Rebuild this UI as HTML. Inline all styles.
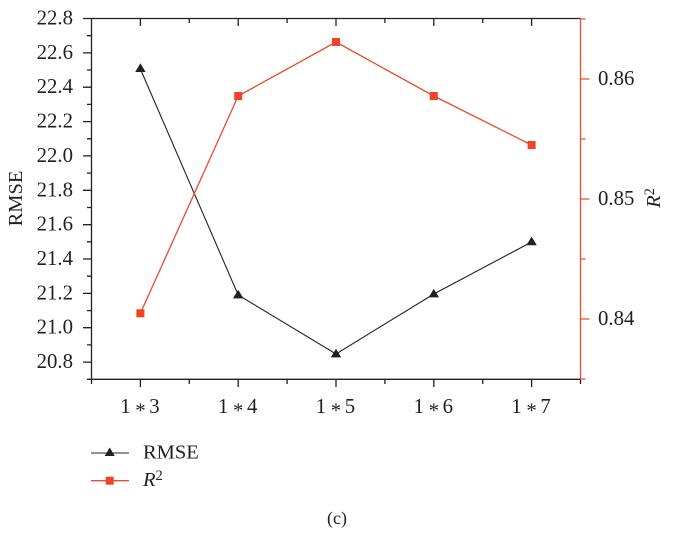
<!DOCTYPE html>
<html><head><meta charset="utf-8"><style>
html,body{margin:0;padding:0;background:#fff;}
svg{display:block;}
svg text{font-family:"Liberation Serif",serif;fill:#231f20;}
</style></head><body>
<svg width="676" height="544" viewBox="0 0 676 544" xmlns="http://www.w3.org/2000/svg" font-family="Liberation Serif, serif">
<g stroke="#231f20" stroke-width="1.3" fill="none">
  <line x1="91.5" y1="18.5" x2="580.5" y2="18.5"/>
  <line x1="91.5" y1="18.5" x2="91.5" y2="379.3"/>
  <line x1="91.5" y1="379.3" x2="580.5" y2="379.3"/>
  <path d="M83 18.5H91.5M83 52.9H91.5M83 87.2H91.5M83 121.6H91.5M83 155.9H91.5M83 190.3H91.5M83 224.7H91.5M83 259H91.5M83 293.4H91.5M83 327.7H91.5M83 362.1H91.5"/>
  <path d="M87 35.7H91.5M87 70H91.5M87 104.4H91.5M87 138.8H91.5M87 173.1H91.5M87 207.5H91.5M87 241.8H91.5M87 276.2H91.5M87 310.6H91.5M87 344.9H91.5M87 379.3H91.5"/>
  <path d="M140.4 379.3V387M238.2 379.3V387M336 379.3V387M433.8 379.3V387M531.6 379.3V387"/>
  <path d="M91.5 379.3V384M189.3 379.3V384M287.1 379.3V384M384.9 379.3V384M482.7 379.3V384M580.5 379.3V384"/>
  <path d="M140.4 18.5V26M238.2 18.5V26M336 18.5V26M433.8 18.5V26M531.6 18.5V26"/>
  <path d="M189.3 18.5V23M287.1 18.5V23M384.9 18.5V23M482.7 18.5V23"/>
</g>
<g stroke="#ef4a2c" stroke-width="1.3" fill="none">
  <line x1="580.5" y1="18.5" x2="580.5" y2="379.3"/>
  <path d="M580.5 79H589.5M580.5 199H589.5M580.5 319H589.5"/>
  <path d="M580.5 19H585.5M580.5 139H585.5M580.5 259H585.5M580.5 379H585.5"/>
</g>
<g font-size="20.8" text-anchor="end" font-family="Liberation Serif, serif">
  <text x="73" y="24.5">22.8</text>
  <text x="73" y="58.9">22.6</text>
  <text x="73" y="93.2">22.4</text>
  <text x="73" y="127.6">22.2</text>
  <text x="73" y="161.9">22.0</text>
  <text x="73" y="196.3">21.8</text>
  <text x="73" y="230.7">21.6</text>
  <text x="73" y="265">21.4</text>
  <text x="73" y="299.4">21.2</text>
  <text x="73" y="333.7">21.0</text>
  <text x="73" y="368.1">20.8</text>
</g>
<g font-size="20.8" font-family="Liberation Serif, serif">
  <text x="598" y="85">0.86</text>
  <text x="598" y="205">0.85</text>
  <text x="598" y="325">0.84</text>
</g>
<g font-size="20.8" text-anchor="middle" font-family="Liberation Serif, serif">
  <text x="125.4" y="413">1</text><text x="140.4" y="417.5">*</text><text x="154.4" y="413">3</text>
  <text x="223.2" y="413">1</text><text x="238.2" y="417.5">*</text><text x="252.2" y="413">4</text>
  <text x="321" y="413">1</text><text x="336" y="417.5">*</text><text x="350" y="413">5</text>
  <text x="418.8" y="413">1</text><text x="433.8" y="417.5">*</text><text x="447.8" y="413">6</text>
  <text x="516.6" y="413">1</text><text x="531.6" y="417.5">*</text><text x="545.6" y="413">7</text>
</g>
<text font-size="20.5" font-family="Liberation Serif, serif" text-anchor="middle" transform="translate(22,198.5) rotate(-90)">RMSE</text>
<text font-size="20.5" font-family="Liberation Serif, serif" text-anchor="middle" transform="translate(660,198) rotate(-90)"><tspan font-style="italic">R</tspan><tspan font-size="14.5" dy="-6">2</tspan></text>
<polyline points="140.4,69 238.2,295 336,354 433.8,294 531.6,242" fill="none" stroke="#231f20" stroke-width="1.1"/>
<g fill="#231f20">
  <polygon points="140.4,63.3 135.2,72 145.6,72"/>
  <polygon points="238.2,289.8 233,298.4 243.4,298.4"/>
  <polygon points="336,348.8 330.8,357.4 341.2,357.4"/>
  <polygon points="433.8,288.8 428.6,297.4 439,297.4"/>
  <polygon points="531.6,236.6 526.4,245.2 536.8,245.2"/>
</g>
<polyline points="140.4,313.3 238.2,96 336,42 433.8,96 531.6,145" fill="none" stroke="#ef4a2c" stroke-width="1.3"/>
<g fill="#ef4426">
  <rect x="136.4" y="309.3" width="8" height="8"/>
  <rect x="234.2" y="92" width="8" height="8"/>
  <rect x="332" y="38" width="8" height="8"/>
  <rect x="429.8" y="92" width="8" height="8"/>
  <rect x="527.6" y="141" width="8" height="8"/>
</g>
<line x1="91" y1="453" x2="129" y2="453" stroke="#231f20" stroke-width="1.1"/>
<polygon points="109.7,447.5 104.7,456 114.7,456" fill="#231f20"/>
<text x="143" y="458.3" font-size="20.5" font-family="Liberation Serif, serif">RMSE</text>
<line x1="91" y1="480.7" x2="129" y2="480.7" stroke="#ef4a2c" stroke-width="1.3"/>
<rect x="105.7" y="476.7" width="8" height="8" fill="#ef4426"/>
<text x="143" y="486" font-size="20.5" font-family="Liberation Serif, serif"><tspan font-style="italic">R</tspan><tspan font-size="14.5" dy="-6">2</tspan></text>
<text x="337" y="524" font-size="18" font-family="Liberation Serif, serif" text-anchor="middle">(c)</text>
</svg>
</body></html>
